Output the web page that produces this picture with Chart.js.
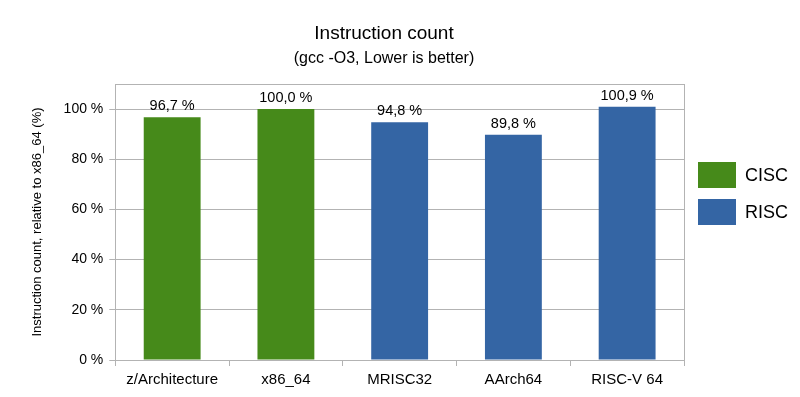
<!DOCTYPE html>
<html>
<head>
<meta charset="utf-8">
<script src="https://cdn.jsdelivr.net/npm/chart.js@4"></script>
<style>
  html, body { margin: 0; padding: 0; background: #fff; }
  #wrap { width: 800px; height: 397px; }
</style>
</head>
<body>
<div id="wrap"><canvas id="countChart" width="800" height="397"></canvas></div>
<script>
const architectures = ['z/Architecture', 'x86_64', 'MRISC32', 'AArch64', 'RISC-V 64'];
const ciscValues = [96.7, 100.0, null, null, null];
const riscValues = [null, null, 94.8, 89.8, 100.9];
const yTicks = [0, 20, 40, 60, 80, 100];

const GREEN = '#468a1a';
const BLUE = '#3465a4';
const GRID = '#b3b3b3';
const FONT = '"Liberation Sans", Arial, sans-serif';

Chart.defaults.font.family = FONT;
Chart.defaults.color = '#000';

// value labels on top of each bar, e.g. "96,7 %"
const valueLabels = {
    id: 'valueLabels',
    afterDatasetsDraw(chart) {
        const ctx = chart.ctx;
        ctx.save();
        ctx.font = '14.5px ' + FONT;
        ctx.fillStyle = '#000';
        ctx.textAlign = 'center';
        ctx.textBaseline = 'alphabetic';
        chart.data.datasets.forEach((ds, i) => {
            chart.getDatasetMeta(i).data.forEach((bar, j) => {
                const v = ds.data[j];
                if (v === null) return;
                ctx.fillText(v.toFixed(1).replace('.', ',') + ' %', bar.x, bar.y - 7);
            });
        });
        ctx.restore();
    }
};

// light frame round the plot area
const plotFrame = {
    id: 'plotFrame',
    beforeDatasetsDraw(chart) {
        const a = chart.chartArea;
        const ctx = chart.ctx;
        ctx.save();
        ctx.strokeStyle = GRID;
        ctx.lineWidth = 1;
        ctx.strokeRect(Math.round(a.left) + 0.5, Math.round(a.top) + 0.5,
            Math.round(a.right - a.left), Math.round(a.bottom - a.top));
        ctx.restore();
    }
};

// legend at the right, with big swatches, vertically near the middle
const sideLegend = {
    id: 'sideLegend',
    afterDraw(chart) {
        const ctx = chart.ctx;
        const boxW = 38, boxH = 26, gap = 11;
        const n = chart.data.datasets.length;
        const total = n * boxH + (n - 1) * gap;
        const x = Math.round(chart.chartArea.right) + 14;
        let y = Math.round(chart.height / 2 - 5 - total / 2);
        ctx.save();
        ctx.font = '18px ' + FONT;
        ctx.textBaseline = 'middle';
        ctx.textAlign = 'left';
        chart.data.datasets.forEach(ds => {
            ctx.fillStyle = ds.backgroundColor;
            ctx.fillRect(x, y, boxW, boxH);
            ctx.fillStyle = '#000';
            ctx.fillText(ds.label, x + boxW + 9, y + boxH / 2 + 1);
            y += boxH + gap;
        });
        ctx.restore();
    }
};

new Chart(document.getElementById('countChart'), {
    type: 'bar',
    data: {
        labels: architectures,
        datasets: [
            { label: 'CISC', data: ciscValues, backgroundColor: GREEN, grouped: false },
            { label: 'RISC', data: riscValues, backgroundColor: BLUE, grouped: false }
        ]
    },
    options: {
        responsive: false,
        animation: false,
        categoryPercentage: 1,
        barPercentage: 0.5,
        layout: { padding: { top: 6, right: 58, bottom: 3, left: 26 } },
        plugins: {
            title: {
                display: true,
                text: 'Instruction count',
                font: { size: 19, weight: 'normal' },
                padding: { top: 16, bottom: 4 }
            },
            subtitle: {
                display: true,
                text: '(gcc -O3, Lower is better)',
                font: { size: 16 },
                color: '#000',
                padding: { bottom: 16 }
            },
            legend: { display: false },
            tooltip: { enabled: false }
        },
        scales: {
            x: {
                offset: true,
                grid: { offset: true, drawOnChartArea: false, color: GRID, tickLength: 6 },
                border: { color: GRID },
                ticks: { font: { size: 15 }, color: '#000', padding: 5 }
            },
            y: {
                min: 0,
                max: 110,
                afterBuildTicks(axis) {
                    axis.ticks = yTicks.map(v => ({ value: v }));
                },
                grid: { color: GRID, tickLength: 6 },
                border: { color: GRID },
                ticks: {
                    font: { size: 14 },
                    color: '#000',
                    padding: 6,
                    callback: v => v + ' %'
                },
                title: {
                    display: true,
                    text: 'Instruction count, relative to x86_64 (%)',
                    font: { size: 13 },
                    padding: { top: 4, bottom: 12 }
                }
            },
            // empty axis on the right, only keeps room for the legend
            legendRoom: {
                position: 'right',
                grid: { display: false },
                border: { display: false },
                ticks: { display: false },
                afterFit(axis) { axis.width = 58; }
            }
        }
    },
    plugins: [plotFrame, valueLabels, sideLegend]
});
</script>
</body>
</html>
